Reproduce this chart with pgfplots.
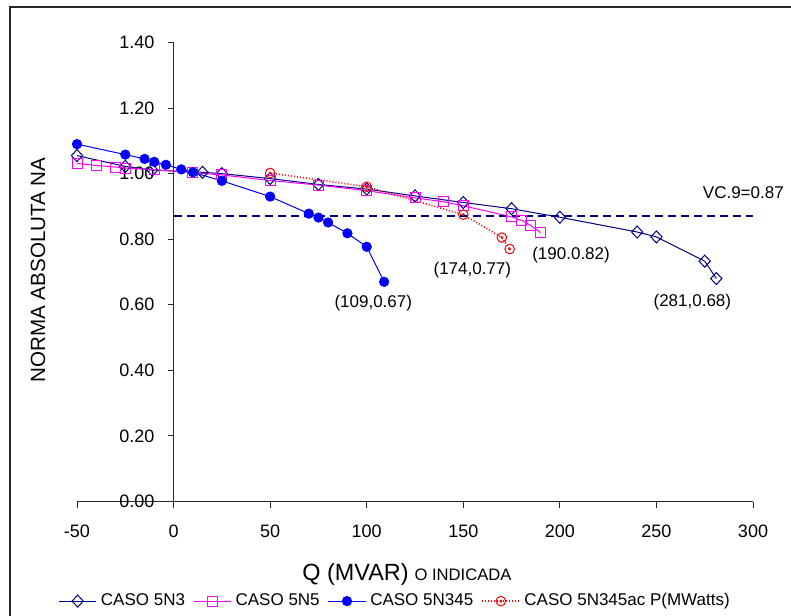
\documentclass[border=0pt]{standalone}
\usepackage{fontspec}
\setmainfont{Liberation Sans}
\usepackage{pgfplots}
\pgfplotsset{compat=1.18}

\definecolor{navyline}{HTML}{000080}
\definecolor{magline}{HTML}{FF00FF}
\definecolor{blueline}{HTML}{0000FF}
\definecolor{redline}{HTML}{FF0000}

% open circle with a small dot in the centre
\pgfdeclareplotmark{circdot}{%
  \pgfpathcircle{\pgfpointorigin}{\pgfplotmarksize}\pgfusepathqstroke
  \pgfpathcircle{\pgfpointorigin}{0.18\pgfplotmarksize}\pgfusepathqfillstroke}

\begin{document}
\begin{tikzpicture}
\path[use as bounding box] (0,0) rectangle (395.5pt,307.5pt);
% chart frame (left and top edges)
\draw[line width=1pt, black!85] (5pt,-5pt) -- (5pt,304pt) -- (400pt,304pt);

\begin{axis}[
  at={(38.5pt,56.75pt)}, anchor=south west,
  scale only axis, width=338pt, height=229.5pt,
  xmin=-50, xmax=300, ymin=0, ymax=1.4,
  axis lines=middle,
  axis line style={-, black!85, line width=0.5pt},
  xtick={-50,0,50,100,150,200,250,300},
  ytick={0,0.2,0.4,0.6,0.8,1.0,1.2,1.4},
  tick align=outside, major tick length=3pt,
  tick style={black!85, line width=0.5pt},
  hide obscured x ticks=false, hide obscured y ticks=false,
  /pgf/number format/assume math mode=true,
  ticklabel style={font=\fontsize{9}{10}\selectfont},
  xticklabel style={yshift=-5pt},
  yticklabel style={xshift=-3pt, /pgf/number format/fixed, /pgf/number format/fixed zerofill, /pgf/number format/precision=2},
  clip=false,
  legend columns=4,
  legend image code/.code={%
    \draw[mark repeat=2, mark phase=2, #1] plot coordinates {(0cm,0cm) (0.33cm,0cm) (0.66cm,0cm)};},
  legend style={at={(axis description cs:0.472,-0.217)}, anchor=center,
    draw=none, fill=none, font=\fontsize{8.5}{10}\selectfont,
    /tikz/every even column/.append style={column sep=2pt}},
  every axis plot/.append style={line width=0.5pt},
]
\addplot[navyline, mark=diamond, mark size=3pt, mark options={solid, line width=0.5pt, fill=white, xscale=1.25}]
coordinates {(-50,1.055) (-25,1.022) (-11,1.011) (15,1.004) (25,1.0) (50,0.985)
 (75,0.967) (100,0.953) (125,0.932) (150,0.912) (175,0.893) (200,0.867)
 (240,0.822) (250,0.807) (275,0.733) (281,0.68)};
\addlegendentry{CASO 5N3}

\addplot[magline, mark=square, mark size=2.5pt, mark options={solid, line width=0.5pt}]
coordinates {(-50,1.031) (-40,1.025) (-30,1.02) (-25,1.017) (-10,1.012) (10,1.003)
 (25,0.996) (50,0.979) (75,0.965) (100,0.948) (125,0.926) (140,0.914) (150,0.902)
 (175,0.868) (180,0.858) (185,0.842) (190,0.82)};
\addlegendentry{CASO 5N5}

\addplot[blueline, mark=*, mark size=2.3pt, mark options={solid}]
coordinates {(-50,1.09) (-25,1.058) (-15,1.045) (-10,1.036) (-4,1.027) (4,1.013)
 (10,1.004) (25,0.978) (50,0.93) (70,0.878) (75,0.866) (80,0.851) (90,0.818)
 (100,0.777) (109,0.67)};
\addlegendentry{CASO 5N345}

\addplot[redline, densely dotted, line width=0.8pt, mark=circdot, mark size=2.4pt, mark options={solid, line width=0.5pt}]
coordinates {(50,1.002) (100,0.96) (150,0.875) (170,0.805) (174,0.77)};
\addlegendentry{CASO 5N345ac P(MWatts)}

% voltage-collapse threshold
\addplot[navyline, line width=1.1pt, dash pattern=on 4pt off 2.5pt, forget plot]
coordinates {(0,0.87) (300,0.87)};

\begin{scope}[font=\fontsize{8.5}{10}\selectfont]
\node at (axis cs:295,0.941) {VC.9=0.87};
\node at (axis cs:103.4,0.605) {(109,0.67)};
\node at (axis cs:154.7,0.706) {(174,0.77)};
\node at (axis cs:205.8,0.752) {(190.0.82)};
\node at (axis cs:268.6,0.608) {(281,0.68)};
\end{scope}
\end{axis}

\node[rotate=90, font=\fontsize{10.3}{12}\selectfont] at (19pt,172.5pt) {NORMA ABSOLUTA NA};
\node[anchor=base west, inner sep=0pt] at (151pt,17.5pt)
  {\fontsize{11.7}{13}\selectfont Q (MVAR)\hspace{3pt}\fontsize{8.3}{10}\selectfont O INDICADA};
\end{tikzpicture}
\end{document}
